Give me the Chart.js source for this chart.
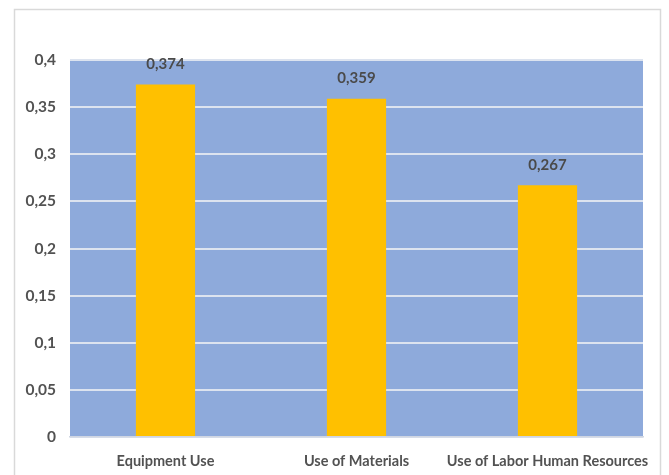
<!DOCTYPE html>
<html>
<head>
<meta charset="utf-8">
<script src="https://cdn.jsdelivr.net/npm/chart.js@4.4.0/dist/chart.umd.min.js"></script>
<style>
  html, body { margin: 0; padding: 0; background: #ffffff; }
  #wrap { width: 669px; height: 475px; position: relative; }
</style>
</head>
<body>
<div id="wrap"><canvas id="c" width="669" height="475"></canvas></div>
<script>
const categories = ["Equipment Use", "Use of Materials", "Use of Labor Human Resources"];
const weights = [0.374, 0.359, 0.267];
const yTicks = [0, 0.05, 0.1, 0.15, 0.2, 0.25, 0.3, 0.35, 0.4];

const fmt = v => String(v).replace('.', ',');
const FONT = 'Lato, "Open Sans", sans-serif';
const TEXT = '#525252';

// white page, thin frame and blue plot background
const framePlugin = {
  id: 'frame',
  beforeDraw(chart) {
    const ctx = chart.ctx;
    const a = chart.chartArea;
    ctx.save();
    ctx.fillStyle = '#ffffff';
    ctx.fillRect(0, 0, chart.width, chart.height);
    ctx.strokeStyle = '#d9d9d9';
    ctx.lineWidth = 1.5;
    ctx.strokeRect(14.5, 9.5, 646, 470);
    ctx.fillStyle = '#8eaadb';
    ctx.fillRect(a.left, a.top, a.right - a.left, a.bottom - a.top);
    ctx.restore();
  }
};

// value labels above each bar
const valueLabels = {
  id: 'valueLabels',
  afterDatasetsDraw(chart) {
    const ctx = chart.ctx;
    const meta = chart.getDatasetMeta(0);
    ctx.save();
    ctx.font = 'bold 15px ' + FONT;
    ctx.fillStyle = '#4a4a4a';
    ctx.textAlign = 'center';
    ctx.textBaseline = 'middle';
    meta.data.forEach((bar, i) => {
      ctx.fillText(fmt(weights[i]), bar.x, bar.y - 20);
    });
    ctx.restore();
  }
};

new Chart(document.getElementById('c'), {
  type: 'bar',
  data: {
    labels: categories,
    datasets: [{
      data: weights,
      backgroundColor: '#ffc000',
      borderWidth: 0,
      categoryPercentage: 1,
      barPercentage: 0.31
    }]
  },
  options: {
    responsive: false,
    animation: false,
    layout: { padding: { left: 0, right: 26, top: 60, bottom: 0 } },
    plugins: { legend: { display: false }, tooltip: { enabled: false } },
    scales: {
      x: {
        grid: { display: false, drawTicks: false },
        border: { display: true, color: '#d0d6e2', width: 1.5 },
        ticks: {
          padding: 16,
          minRotation: 0,
          maxRotation: 0,
          autoSkip: false,
          color: TEXT,
          font: { family: FONT, size: 14.5, weight: 'bold' }
        },
        afterFit(s) { s.height = 38; }
      },
      y: {
        min: 0,
        max: 0.4,
        afterBuildTicks(s) { s.ticks = yTicks.map(v => ({ value: v })); },
        grid: { color: '#dce3ef', lineWidth: 2, drawTicks: false },
        border: { display: false },
        ticks: {
          padding: 14,
          color: TEXT,
          font: { family: FONT, size: 15.5, weight: 'bold' },
          callback: v => fmt(v)
        },
        afterFit(s) { s.width = 70; }
      }
    }
  },
  plugins: [framePlugin, valueLabels]
});
</script>
</body>
</html>
